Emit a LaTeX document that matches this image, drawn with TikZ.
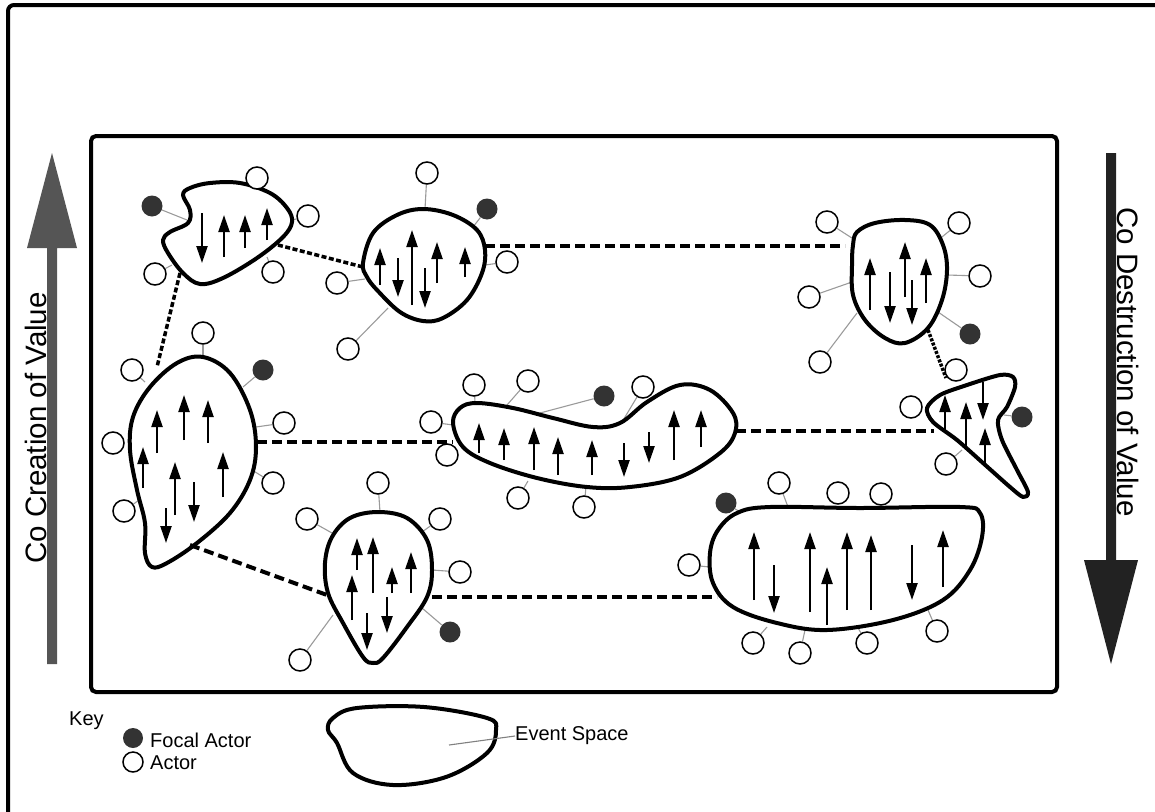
\documentclass[tikz,border=0pt]{standalone}
\usepackage{fontspec}
\setmainfont{Liberation Sans}
\usetikzlibrary{arrows.meta}
\definecolor{focalc}{HTML}{333333}
\definecolor{leftarr}{HTML}{555555}
\definecolor{rightarr}{HTML}{222222}
\definecolor{leadc}{HTML}{9A9A9A}
\newcommand\vecar[3]{\draw[vecstyle] (#1,#2) -- (#1,#3);}
\newcommand\oactor[5]{\node[actor] (#1) at (#2,#3) {}; \coordinate (#1p) at (#4,#5); \begin{pgfonlayer}{background}\draw[leader] (#1) -- (#1p);\end{pgfonlayer}}
\newcommand\factor[5]{\node[focal] (#1) at (#2,#3) {}; \coordinate (#1p) at (#4,#5); \begin{pgfonlayer}{background}\draw[leader] (#1) -- (#1p);\end{pgfonlayer}}
\newcommand\oactorn[3]{\node[actor] (#1) at (#2,#3) {};}
\pgfdeclarelayer{background}
\pgfsetlayers{background,main}
\begin{document}
\begin{tikzpicture}[x=1pt,y=-1pt,
  blob/.style={draw, line width=4pt, line join=round},
  actor/.style={circle, draw, line width=1.5pt, minimum size=22pt, inner sep=0pt, fill=white},
  focal/.style={circle, fill=focalc, minimum size=21pt, inner sep=0pt},
  leader/.style={draw=leadc, line width=1.1pt},
  vecstyle/.style={line width=2.3pt, -{Triangle[length=17pt,width=11pt]}},
  link/.style={line width=4pt, dash pattern=on 10pt off 5pt},
  flink/.style={line width=3.5pt, dash pattern=on 5pt off 2.5pt},
  dlink/.style={line width=3.5pt, dash pattern=on 3pt off 1.5pt},
  lbl/.style={font=\fontsize{29.5}{31}\selectfont, inner sep=0pt},
  keytext/.style={font=\fontsize{20}{22}\selectfont, inner sep=0pt, anchor=west}]
\useasboundingbox (0,0) rectangle (1155,811);
\clip (0,0) rectangle (1155,811);
% frames
\draw[line width=4pt, rounded corners=6pt] (1180,5) -- (8,5) -- (8,840);
\draw[line width=4pt, rounded corners=5pt] (91,136) rectangle (1057,692);
% big arrows
\fill[leftarr] (47,664) -- (47,248) -- (27,248) -- (52,153) -- (77,248) -- (57,248) -- (57,664) -- cycle;
\fill[rightarr] (1106,153) -- (1106,560) -- (1084,560) -- (1111,664) -- (1138,560) -- (1116,560) -- (1116,153) -- cycle;
\node[lbl, rotate=90] (lcre) at (36,428) {Co Creation of Value};
\node[lbl, rotate=-90] (ldes) at (1128,362) {Co Destruction of Value};
% blob link coordinates
\coordinate (AB1) at (278,245); \coordinate (AB2) at (363,267);
\coordinate (BC1) at (485,246); \coordinate (BC2) at (845,246);
\coordinate (AF1) at (180,273); \coordinate (AF2) at (157,367);
\coordinate (FE1) at (257,442); \coordinate (FE2) at (453,442);
\coordinate (ED1) at (736,431); \coordinate (ED2) at (934,431);
\coordinate (CD1) at (928,330); \coordinate (CD2) at (946,378);
\coordinate (FG1) at (190,545); \coordinate (FG2) at (327,595);
\coordinate (GH1) at (432,597); \coordinate (GH2) at (717,597);
\draw[flink] (AB1) -- (AB2);
\draw[link] (BC1) -- (BC2);
\draw[flink] (AF1) -- (AF2);
\draw[link] (FE1) -- (FE2);
\draw[link] (ED1) -- (ED2);
\draw[dlink] (CD1) -- (CD2);
\draw[link] (FG1) -- (FG2);
\draw[link] (GH1) -- (GH2);
% blobs
% A
\draw[blob] plot[smooth cycle, tension=0.6] coordinates {(183,195) (190,210) (188,223) (170,232) (163,240) (168,253) (183,273) (200,284) (223,278) (257,258) (283,237) (292,222) (287,208) (270,193) (240,183) (210,183) (190,188)};
% B
\draw[blob] plot[smooth cycle, tension=0.6] coordinates {(363,263) (373,233) (397,215) (423,209) (453,215) (477,230) (485,250) (482,273) (467,300) (443,318) (423,321) (400,312) (377,290) (367,277)};
% C
\draw[blob] plot[smooth cycle, tension=0.6] coordinates {(857,232) (875,223) (905,220) (930,225) (943,245) (947,270) (942,300) (928,328) (905,343) (885,338) (865,320) (853,295) (852,265) (853,245)};
% D
\draw[blob] plot[smooth cycle, tension=0.5] coordinates {(927,408) (940,395) (967,385) (1000,375) (1013,377) (1015,387) (1007,407) (998,420) (1002,440) (1017,470) (1028,492) (1023,497) (1010,487) (983,463) (957,440) (933,422)};
% E
\draw[blob] plot[smooth cycle, tension=0.6] coordinates {(453,423) (460,408) (477,403) (513,408) (553,418) (593,427) (620,423) (647,402) (680,385) (710,390) (733,413) (735,433) (720,453) (680,477) (630,487) (587,487) (537,478) (490,463) (463,447)};
% F
\draw[blob] plot[smooth cycle, tension=0.6] coordinates {(203,357) (177,363) (150,387) (133,417) (130,450) (137,490) (145,523) (145,553) (152,567) (167,563) (197,543) (230,513) (250,480) (256,447) (250,410) (230,373)};
% G
\draw[blob] plot[smooth cycle, tension=0.6] coordinates {(378,512) (350,518) (332,537) (325,563) (328,593) (343,623) (363,657) (373,663) (383,658) (407,627) (427,597) (432,570) (427,540) (407,518)};
% H
\draw[blob] plot[smooth cycle, tension=0.6] coordinates {(737,513) (770,507) (860,508) (960,507) (980,513) (982,537) (970,570) (943,600) (893,620) (827,630) (777,623) (733,607) (713,583) (710,553) (718,530)};
% inner arrows
\vecar{202}{213}{263}\vecar{224}{257}{215}\vecar{245}{248}{215}\vecar{267}{240}{208}
\vecar{380}{285}{248}\vecar{398}{258}{297}\vecar{412}{305}{230}\vecar{437}{283}{242}\vecar{425}{268}{308}\vecar{465}{277}{247}
\vecar{870}{310}{258}\vecar{890}{272}{323}\vecar{905}{297}{242}\vecar{912}{280}{325}\vecar{926}{303}{258}
\vecar{945}{432}{395}\vecar{966}{448}{402}\vecar{983}{382}{420}\vecar{985}{463}{428}
\vecar{479}{453}{423}\vecar{504}{460}{428}\vecar{534}{470}{427}\vecar{558}{475}{437}\vecar{592}{475}{440}\vecar{624}{443}{477}\vecar{649}{432}{463}\vecar{674}{460}{410}\vecar{701}{447}{410}
\vecar{157}{453}{410}\vecar{184}{440}{395}\vecar{208}{443}{400}\vecar{143}{488}{447}\vecar{175}{515}{462}\vecar{166}{508}{543}\vecar{194}{482}{522}\vecar{223}{497}{452}
\vecar{357}{570}{538}\vecar{373}{593}{537}\vecar{392}{593}{567}\vecar{411}{593}{552}\vecar{352}{620}{575}\vecar{387}{597}{633}\vecar{367}{613}{650}
\vecar{754}{600}{532}\vecar{774}{565}{613}\vecar{810}{612}{532}\vecar{827}{625}{567}\vecar{847}{610}{532}\vecar{871}{610}{535}\vecar{912}{545}{600}\vecar{943}{587}{530}
% actors A
\factor{fA}{152}{206}{187}{220}
\oactor{a1}{257}{178}{255}{186}
\oactor{a2}{308}{216}{292}{220}
\oactor{a3}{155}{274}{172}{265}
\oactor{a4}{273}{272}{267}{257}
% B
\factor{fB}{487}{209}{473}{227}
\oactor{b1}{427}{173}{425}{209}
\oactor{b2}{507}{262}{485}{265}
\oactor{b3}{337}{283}{365}{279}
\oactor{b4}{348}{349}{388}{308}
% C
\oactor{c1}{827}{222}{855}{240}
\oactor{c2}{959}{223}{942}{237}
\oactor{c3}{980}{276}{947}{275}
\oactor{c4}{809}{297}{852}{282}
\factor{fC}{970}{334}{938}{312}
\oactor{c5}{820}{362}{857}{313}
% D
\oactorn{d1}{956}{370}
\oactorn{d2}{911}{407}
\factor{fD}{1022}{417}{1004}{415}
\oactor{d3}{946}{464}{962}{450}
% E
\oactor{e1}{474}{385}{475}{402}
\oactor{e2}{528}{381}{507}{405}
\factor{fE}{604}{396}{540}{413}
\oactor{e3}{643}{387}{622}{422}
\oactor{e4}{431}{422}{453}{425}
\oactorn{e5}{447}{455}
\oactor{e6}{518}{498}{528}{481}
\oactor{e7}{584}{507}{586}{487}
% F
\oactor{f1}{203}{333}{203}{357}
\factor{fF}{263}{370}{243}{387}
\oactor{f2}{132}{370}{145}{382}
\oactor{f3}{284}{423}{256}{427}
\oactorn{f4}{113}{443}
\oactor{f5}{273}{483}{252}{470}
\oactor{f6}{124}{511}{139}{500}
% G
\oactor{g1}{378}{483}{380}{512}
\oactor{g2}{307}{519}{332}{533}
\oactor{g3}{440}{519}{422}{532}
\oactor{g4}{460}{572}{432}{570}
\factor{fG}{450}{632}{422}{608}
\oactor{g5}{300}{660}{333}{615}
% H
\factor{fH}{726}{503}{740}{512}
\oactor{h1}{779}{483}{788}{507}
\oactorn{h2}{838}{493}
\oactorn{h3}{881}{494}
\oactor{h4}{689}{565}{710}{567}
\oactor{h5}{753}{643}{767}{627}
\oactor{h6}{800}{653}{805}{630}
\oactor{h7}{867}{643}{858}{628}
\oactor{h8}{937}{631}{928}{610}
% legend
\node[keytext] (key) at (69,721) {Key};
\node[focal, minimum size=20pt] (kf) at (133,738) {};
\node[keytext] (kft) at (150,740) {Focal Actor};
\node[actor, minimum size=20pt] (ka) at (133,762) {};
\node[keytext] (kat) at (150,763) {Actor};
\draw[blob] plot[smooth cycle, tension=0.6] coordinates {(333,718) (357,708) (424,707) (487,718) (496,730) (487,753) (446,777) (393,785) (353,773) (337,743) (328,730)};
\node[keytext] (kes) at (515,736) {Event Space};
\coordinate (kin) at (449,745);
\draw[leader, draw=gray] (kin) -- (kes.west);
\end{tikzpicture}
\end{document}
